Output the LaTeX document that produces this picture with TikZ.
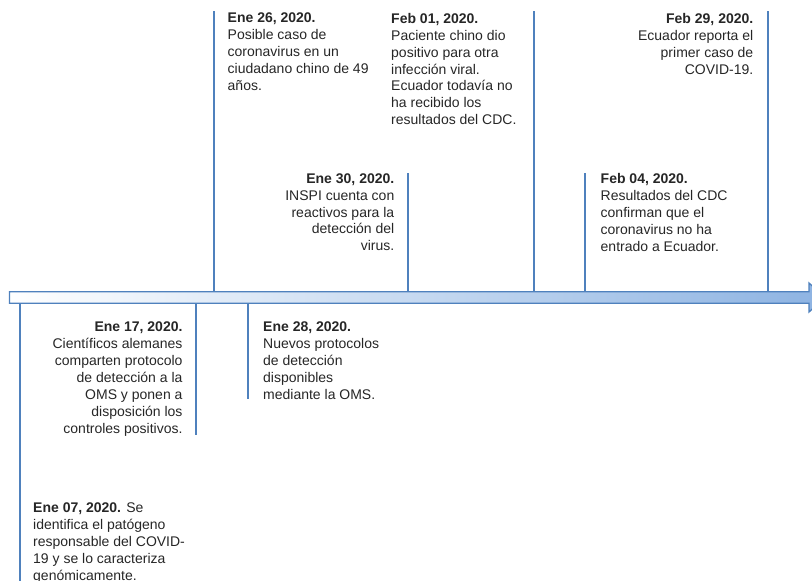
\documentclass[tikz,border=0pt]{standalone}
\usepackage{fontspec}
\setmainfont{Liberation Sans}
\usetikzlibrary{positioning}

\begin{document}
\begin{tikzpicture}[x=1pt, y=-1pt, font=\fontsize{14}{16.9}\selectfont]
        % [colores]
        \definecolor{lineablue}{RGB}{79,129,189}   % tallos y borde
        \definecolor{barrablue}{RGB}{141,179,226}  % relleno de la barra
        \colorlet{texto}{black!85}

        % estilos comunes
        \tikzset{
            tallo/.style={line width=1.5pt, lineablue},
            barra/.style={line width=1.3pt, draw=lineablue, left color=white, right color=barrablue},
            evento/.style={inner sep=0pt, text=texto},
            izq/.style={evento, align=left, anchor=north west},
            der/.style={evento, align=right, anchor=north east}
        }

        \useasboundingbox (0,0) rectangle (812,581);

        % --- Tallos (nombre/x/base/tope) ---
        \foreach \n/\x/\ya/\yb in {e07/20/303/590, e17/196/303/435, e26/214/291/11, e28/248/303/399,
                                   e30/408/291/173, f01/534/291/11, f04/585/291/173, f29/768/291/11} {
            \coordinate (\n-base) at (\x,\ya);
            \coordinate (\n-tope) at (\x,\yb);
            \draw[tallo] (\n-base) -- (\n-tope);
        }

        % --- Barra del tiempo ---
        \draw[barra] (9.5,291.7) -- (809,291.7) -- (809,283) -- (825,297.5)
            -- (809,312) -- (809,303.3) -- (9.5,303.3) -- cycle;

        % --- Eventos arriba ---
        \node[izq] (ev26) at (227.5,13) {\textbf{Ene 26, 2020.}\\Posible caso de\\coronavirus en un\\ciudadano chino de 49\\años.};
        \node[izq] (ev01) at (391,13) {\textbf{Feb 01, 2020.}\\Paciente chino dio\\positivo para otra\\infección viral.\\Ecuador todavía no\\ha recibido los\\resultados del CDC.};
        \node[der] (ev29) at (753.5,13) {\textbf{Feb 29, 2020.}\\Ecuador reporta el\\primer caso de\\COVID-19.};
        \node[der] (ev30) at (394.5,173.3) {\textbf{Ene 30, 2020.}\\INSPI cuenta con\\reactivos para la\\detección del\\virus.};
        \node[izq] (ev04) at (600.5,173.3) {\textbf{Feb 04, 2020.}\\Resultados del CDC\\confirman que el\\coronavirus no ha\\entrado a Ecuador.};

        % --- Eventos abajo ---
        \node[der] (ev17) at (182.7,321.7) {\textbf{Ene 17, 2020.}\\Científicos alemanes\\comparten protocolo\\de detección a la\\OMS y ponen a\\disposición los\\controles positivos.};
        \node[izq] (ev28) at (263,321.7) {\textbf{Ene 28, 2020.}\\Nuevos protocolos\\de detección\\disponibles\\mediante la OMS.};
        \node[izq] (ev07) at (33,503) {\textbf{Ene 07, 2020.} Se\\identifica el patógeno\\responsable del COVID-\\19 y se lo caracteriza\\genómicamente.};
    \end{tikzpicture}
\end{document}
